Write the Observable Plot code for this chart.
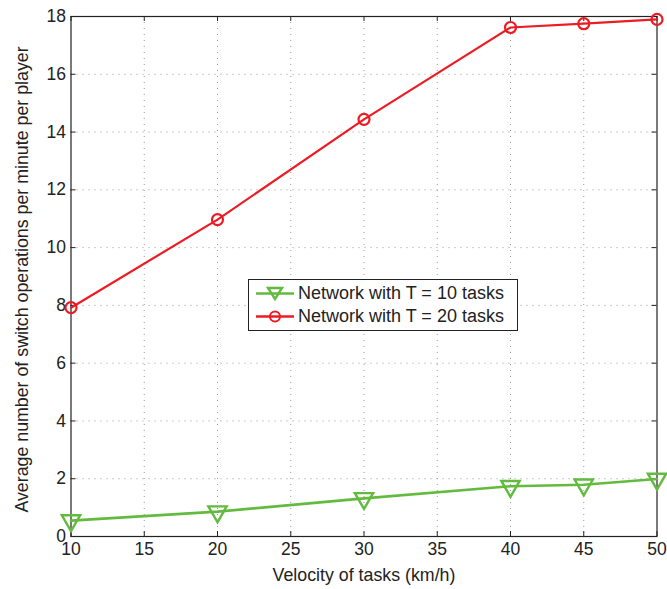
<!DOCTYPE html>
<html><head><meta charset="utf-8">
<script src="https://cdn.jsdelivr.net/npm/d3@7"></script>
<script src="https://cdn.jsdelivr.net/npm/@observablehq/plot@0.6"></script>
<style>
body{margin:0;background:#fff;font-family:"Liberation Sans",Arial,sans-serif;}
#wrap{position:relative;width:667px;height:589px;}
#legend{position:absolute;left:248px;top:279px;width:270px;height:52px;border:1.3px solid #222;background:#fff;font-size:18px;color:#222;box-sizing:border-box;}
#legend .row{position:absolute;left:7px;height:23px;display:flex;align-items:center;white-space:nowrap;}
#legend svg{display:block;margin-right:4px;}
</style></head><body>
<div id="wrap"><div id="chart"></div><div id="legend"></div></div>
<script>
const velocities = [10, 20, 30, 40, 45, 50];
const t10 = [0.55, 0.86, 1.32, 1.74, 1.79, 1.99];
const t20 = [7.92, 10.97, 14.44, 17.62, 17.75, 17.9];
const seriesNames = ["Network with T = 10 tasks", "Network with T = 20 tasks"];
const xTicks = [10, 15, 20, 25, 30, 35, 40, 45, 50];
const yTicks = [0, 2, 4, 6, 8, 10, 12, 14, 16, 18];
const xLabel = "Velocity of tasks (km/h)";
const yLabel = "Average number of switch operations per minute per player";
const green = "#62bb3f", red = "#ec1c24";

const d10 = velocities.map((v, i) => ({v, y: t10[i]}));
const d20 = velocities.map((v, i) => ({v, y: t20[i]}));
const W = 667, H = 589, mL = 70.5, mR = 10.5, mT = 16, mB = 53;
const gridStyle = {stroke: "#9a9a9a", strokeWidth: 1, strokeDasharray: "1,5", strokeOpacity: 1};
const tk = 5;

const plot = Plot.plot({
  width: W, height: H,
  marginLeft: mL, marginRight: mR, marginTop: mT, marginBottom: mB,
  style: {fontFamily: "'Liberation Sans', Arial, sans-serif", fontSize: "17px", color: "#222", background: "#fff"},
  x: {domain: [10, 50]},
  y: {domain: [0, 18]},
  marks: [
    Plot.ruleX(xTicks.slice(1, -1), {x: d => d, ...gridStyle}),
    Plot.ruleY(yTicks.slice(1, -1), {y: d => d, ...gridStyle}),
    Plot.tickX(xTicks, {x: d => d, stroke: "#222", insetTop: H - mT - mB - tk}),
    Plot.tickX(xTicks, {x: d => d, stroke: "#222", insetBottom: H - mT - mB - tk}),
    Plot.tickY(yTicks, {y: d => d, stroke: "#222", insetRight: W - mL - mR - tk}),
    Plot.tickY(yTicks, {y: d => d, stroke: "#222", insetLeft: W - mL - mR - tk}),
    Plot.frame({stroke: "#222", strokeWidth: 1.2}),
    Plot.axisX(xTicks, {tickSize: 0, tickPadding: 6, fontSize: 17.5, fill: "#222", label: null}),
    Plot.axisY(yTicks, {tickSize: 0, tickPadding: 5, fontSize: 17.5, fill: "#222", label: null}),
    Plot.text([xLabel], {text: d => d, frameAnchor: "bottom", textAnchor: "middle", lineAnchor: "middle", dy: 39, fontSize: 17.8, fill: "#222"}),
    Plot.text([yLabel], {text: d => d, frameAnchor: "left", textAnchor: "middle", lineAnchor: "middle", rotate: -90, dx: -48.5, dy: 3, fontSize: 17.8, fill: "#222"}),
    Plot.line(d10, {x: "v", y: "y", stroke: green, strokeWidth: 2.6}),
    Plot.dot(d10, {x: "v", y: "y", symbol: "triangle", rotate: 180, r: 6.8, stroke: green, strokeWidth: 2.4, fill: "none"}),
    Plot.line(d20, {x: "v", y: "y", stroke: red, strokeWidth: 2.2}),
    Plot.dot(d20, {x: "v", y: "y", symbol: "circle", r: 5.5, stroke: red, strokeWidth: 2.2, fill: "none"})
  ]
});
document.getElementById("chart").appendChild(plot);

const leg = document.getElementById("legend");
const markers = [
  `<path d="M12,6 L26,6 L19,17 Z" fill="none" stroke="${green}" stroke-width="2.4"/>`,
  `<circle cx="19" cy="11.5" r="5" fill="none" stroke="${red}" stroke-width="2"/>`
];
const cols = [green, red];
seriesNames.forEach((name, i) => {
  const row = document.createElement("div");
  row.className = "row";
  row.style.top = (2 + i * 23) + "px";
  row.innerHTML = `<svg width="38" height="23"><line x1="0" x2="38" y1="11.5" y2="11.5" stroke="${cols[i]}" stroke-width="2.4"/>${markers[i]}</svg><span>${name}</span>`;
  leg.appendChild(row);
});
</script>
</body></html>
